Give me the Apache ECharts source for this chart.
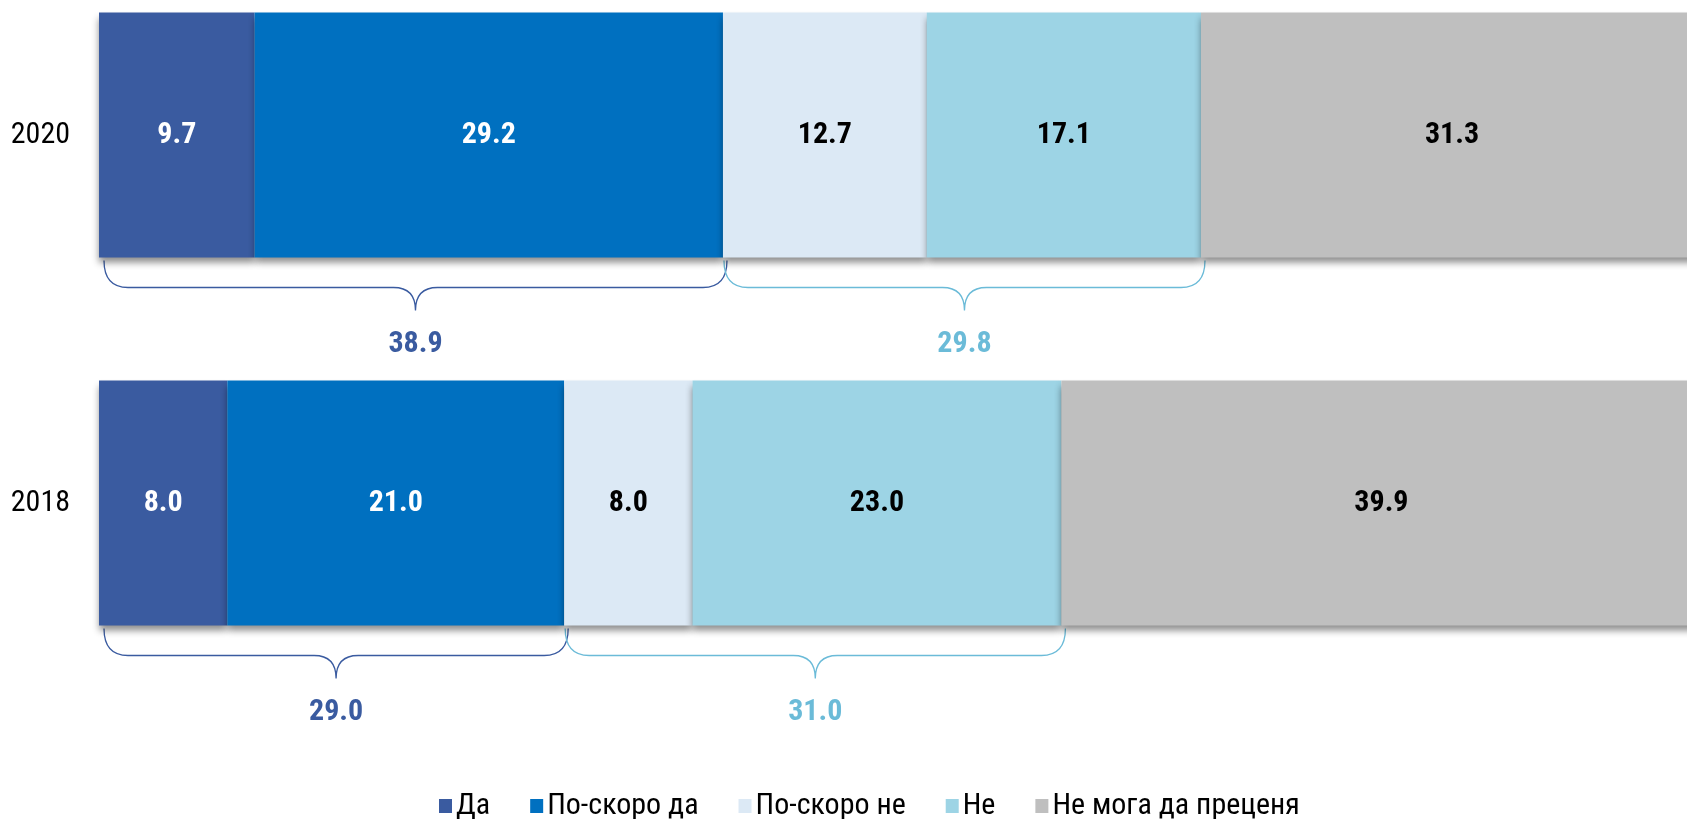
<!DOCTYPE html>
<html>
<head>
<meta charset="utf-8">
<script src="https://cdn.jsdelivr.net/npm/echarts@6/dist/echarts.min.js"></script>
<style>
html,body{margin:0;padding:0;background:#fff;}
#chart{width:1687px;height:819px;}
</style>
</head>
<body>
<div id="chart"></div>
<script>
const categories = ["2020", "2018"];
const seriesNames = ["Да", "По-скоро да", "По-скоро не", "Не", "Не мога да преценя"];
const da = [9.7, 8.0];
const poSkoroDa = [29.2, 21.0];
const poSkoroNe = [12.7, 8.0];
const ne = [17.1, 23.0];
const neMoga = [31.3, 39.9];
const yesTotals = [38.9, 29.0];
const noTotals = [29.8, 31.0];

const FONT = "'Liberation Sans Narrow','Arial Narrow','Roboto Condensed',sans-serif";
const colors = ["#3A5BA0", "#0070C0", "#DCE9F5", "#9DD4E5", "#BFBFBF"];
const labelColors = ["#fff", "#fff", "#000", "#000", "#000"];
const braceColors = ["#3A5BA0", "#6BBBD8"];
const BAR_W = 245;

const values = [da, poSkoroDa, poSkoroNe, ne, neMoga];

// brace data built from the series values: [start, end, categoryIndex, total, group]
const braceData = [];
categories.forEach((c, i) => {
  const yesStart = 0;
  const yesEnd = da[i] + poSkoroDa[i];
  const noEnd = yesEnd + poSkoroNe[i] + ne[i];
  braceData.push([yesStart, yesEnd, i, yesTotals[i], 0]);
  braceData.push([yesEnd, noEnd, i, noTotals[i], 1]);
});

const chart = echarts.init(document.getElementById('chart'));

const barSeries = seriesNames.map((name, k) => ({
  name: name,
  type: 'bar',
  stack: 'total',
  barWidth: BAR_W,
  clip: false,
  data: values[k],
  itemStyle: {
    color: colors[k],
    shadowColor: 'rgba(0,0,0,0.45)',
    shadowBlur: 7,
    shadowOffsetY: 5
  },
  label: {
    show: true,
    position: 'inside',
    formatter: p => p.value.toFixed(1),
    color: labelColors[k],
    fontFamily: FONT,
    fontWeight: 'bold',
    fontSize: 30
  },
  emphasis: {disabled: true}
}));

const braceSeries = {
  type: 'custom',
  silent: true,
  clip: false,
  encode: {x: [0, 1], y: 2},
  data: braceData,
  renderItem: function (params, api) {
    const s = api.coord([api.value(0), api.value(2)]);
    const e = api.coord([api.value(1), api.value(2)]);
    const bottom = s[1] + BAR_W / 2;
    const x1 = s[0] + (api.value(0) === 0 ? 5 : 1);
    const x2 = e[0] + 4;
    const top = bottom + 3;
    const hy = bottom + 30;
    const tip = bottom + 53;
    const mid = (x1 + x2) / 2;
    const r = 24;
    const rm = 22;
    const col = braceColors[api.value(4)];
    const path = `M${x1},${top} Q${x1},${hy} ${x1 + r},${hy} L${mid - rm},${hy} Q${mid},${hy} ${mid},${tip} Q${mid},${hy} ${mid + rm},${hy} L${x2 - r},${hy} Q${x2},${hy} ${x2},${top}`;
    return {
      type: 'group',
      children: [
        {type: 'path', shape: {pathData: path}, style: {fill: null, stroke: col, lineWidth: 1.3}},
        {type: 'text', x: mid, y: bottom + 87, style: {
          text: api.value(3).toFixed(1), fill: col, font: "bold 30px " + FONT,
          textAlign: 'center', textVerticalAlign: 'middle'
        }}
      ]
    };
  }
};

chart.setOption({
  animation: false,
  grid: {left: 99, top: 135, right: 0, height: 368},
  xAxis: {type: 'value', min: 0, max: 99, show: false},
  yAxis: {
    type: 'category', data: categories, inverse: true, boundaryGap: false,
    axisLine: {show: false}, axisTick: {show: false}, splitLine: {show: false},
    axisLabel: {fontFamily: FONT, fontSize: 30, color: '#000', margin: 29}
  },
  legend: {
    data: seriesNames,
    left: 434, top: 786,
    icon: 'rect', itemWidth: 13, itemHeight: 14, itemGap: 40,
    textStyle: {fontFamily: FONT, fontSize: 30, color: '#000', padding: [0, 0, 0, -1]},
    selectedMode: false
  },
  series: barSeries.concat([braceSeries])
});
</script>
</body>
</html>
